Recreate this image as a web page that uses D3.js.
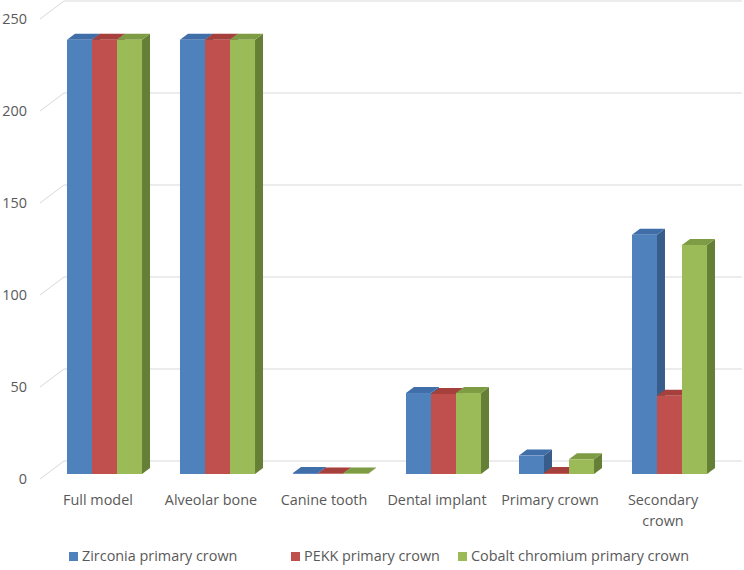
<!DOCTYPE html>
<html>
<head>
<meta charset="utf-8">
<script src="https://cdnjs.cloudflare.com/ajax/libs/d3/7.8.5/d3.min.js"></script>
<style>
  body { margin: 0; background: #fff; }
  svg { display: block; font-family: "Open Sans", sans-serif; }
</style>
</head>
<body>
<div id="chart"></div>
<script>
// datos
const categories = ["Full model", "Alveolar bone", "Canine tooth", "Dental implant", "Primary crown", "Secondary crown"];
const seriesNames = ["Zirconia primary crown", "PEKK primary crown", "Cobalt chromium primary crown"];
const zirconia = [236, 236, 0.5, 44, 10, 130];
const pekk     = [236, 236, 0.3, 43.5, 0.5, 42.5];
const cobalt   = [236, 236, 0.3, 44, 8, 124.5];
const yTicks = [0, 50, 100, 150, 200, 250];

const seriesValues = [zirconia, pekk, cobalt];
const colors = [
  { front: "#4F81BD", top: "#3f6ea8", side: "#385D8A" },
  { front: "#C0504D", top: "#a5403d", side: "#8C3836" },
  { front: "#9BBB59", top: "#7e9c44", side: "#667f36" }
];

const width = 744, height = 570;
const depthX = 24, depthY = -18;   // profundidad del suelo
const barDX = 8, barDY = -6;       // profundidad de las barras
const fontSize = 14.4;

const svg = d3.select("#chart").append("svg")
  .attr("width", width)
  .attr("height", height);

const y = d3.scaleLinear().domain([0, 250]).range([479, 19]);

const x0 = d3.scaleBand()
  .domain(categories)
  .range([48, 726])
  .paddingInner(0.336)
  .paddingOuter(0.168);

const x1 = d3.scaleBand()
  .domain(d3.range(seriesNames.length))
  .range([0, x0.bandwidth()]);

// Rejilla (pared del fondo)
const grid = svg.append("g");
yTicks.forEach(t => {
  const yf = y(t);
  grid.append("path")
    .attr("d", `M40,${yf} L${40 + depthX},${yf + depthY} L742,${yf + depthY}`)
    .attr("fill", "none")
    .attr("stroke", "#d9d9d9")
    .attr("stroke-width", 1);
  grid.append("text")
    .attr("x", 27)
    .attr("y", yf)
    .attr("dy", "0.35em")
    .attr("text-anchor", "end")
    .attr("font-size", fontSize)
    .attr("fill", "#595959")
    .text(t);
});

// Barras 3D
const bars = svg.append("g");
categories.forEach((cat, ci) => {
  seriesValues.forEach((vals, si) => {
    const v = vals[ci];
    const bx = x0(cat) + x1(si);
    const w = x1.bandwidth();
    const yTop = y(v) - 5;
    const yBot = y(0) - 5;
    const c = colors[si];
    // lado
    bars.append("path")
      .attr("d", `M${bx + w},${yTop} L${bx + w + barDX},${yTop + barDY} L${bx + w + barDX},${yBot + barDY} L${bx + w},${yBot} Z`)
      .attr("fill", c.side);
    // techo
    bars.append("path")
      .attr("d", `M${bx},${yTop} L${bx + barDX},${yTop + barDY} L${bx + w + barDX},${yTop + barDY} L${bx + w},${yTop} Z`)
      .attr("fill", c.top);
    // frente
    bars.append("rect")
      .attr("x", bx)
      .attr("y", yTop)
      .attr("width", w)
      .attr("height", Math.max(0, yBot - yTop))
      .attr("fill", c.front);
  });
});

// Etiquetas de categorías
const labels = svg.append("g");
categories.forEach(cat => {
  const cx = x0(cat) + x0.bandwidth() / 2 - 6.5;
  const lines = cat === "Secondary crown" ? ["Secondary", "crown"] : [cat];
  const t = labels.append("text")
    .attr("x", cx)
    .attr("y", 505)
    .attr("text-anchor", "middle")
    .attr("font-size", fontSize)
    .attr("fill", "#595959");
  lines.forEach((l, i) => {
    t.append("tspan").attr("x", cx).attr("dy", i === 0 ? 0 : 21).text(l);
  });
});

// Leyenda
const legendX = [69, 291, 458];
const legend = svg.append("g");
seriesNames.forEach((name, i) => {
  legend.append("rect")
    .attr("x", legendX[i])
    .attr("y", 552)
    .attr("width", 9)
    .attr("height", 9)
    .attr("fill", colors[i].front);
  legend.append("text")
    .attr("x", legendX[i] + 13)
    .attr("y", 561)
    .attr("font-size", fontSize)
    .attr("fill", "#595959")
    .text(name);
});
</script>
</body>
</html>
